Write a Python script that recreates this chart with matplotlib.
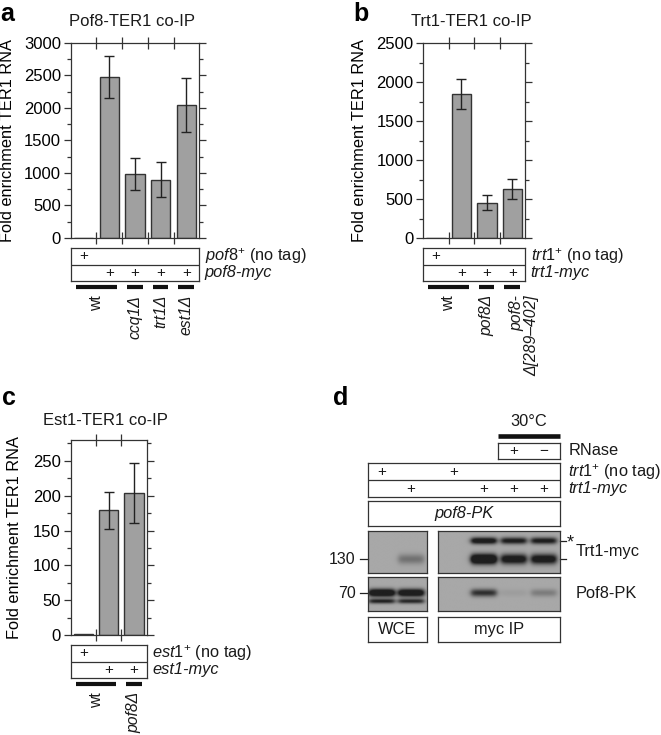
import numpy as np
import matplotlib
matplotlib.use('Agg')
import matplotlib.pyplot as plt
from matplotlib.ticker import MultipleLocator

plt.rcParams['font.family'] = ['Liberation Sans', 'DejaVu Sans']
plt.rcParams['mathtext.fontset'] = 'custom'
plt.rcParams['mathtext.rm'] = 'Liberation Sans'
plt.rcParams['mathtext.it'] = 'Liberation Sans:italic'
plt.rcParams['axes.edgecolor'] = '#333333'
plt.rcParams['axes.linewidth'] = 0.9
plt.rcParams['text.color'] = '#1a1a1a'

W, H = 661, 735

# ---------------- data ----------------
# a: Pof8-TER1 co-IP
a_vals = [0, 2480, 980, 890, 2050]
a_lo = [0, 2160, 740, 630, 1630]
a_hi = [0, 2800, 1230, 1170, 2460]
a_notag = ['+', '', '', '', '']
a_myc = ['', '+', '+', '+', '+']
a_rows = [r'$\mathit{pof8}^{+}$ (no tag)', 'pof8-myc']
a_groups = [(0, 1, 'wt'), (2, 2, 'ccq1Δ'), (3, 3, 'trt1Δ'), (4, 4, 'est1Δ')]

# b: Trt1-TER1 co-IP
b_vals = [0, 1850, 455, 630]
b_lo = [0, 1660, 365, 500]
b_hi = [0, 2040, 550, 760]
b_notag = ['+', '', '', '']
b_myc = ['', '+', '+', '+']
b_rows = [r'$\mathit{trt1}^{+}$ (no tag)', 'trt1-myc']
b_groups = [(0, 1, 'wt'), (2, 2, 'pof8Δ'), (3, 3, 'pof8-\nΔ[289–402]')]

# c: Est1-TER1 co-IP
c_vals = [2, 179, 204]
c_lo = [2, 152, 161]
c_hi = [2, 206, 247]
c_notag = ['+', '', '']
c_myc = ['', '+', '+']
c_rows = [r'$\mathit{est1}^{+}$ (no tag)', 'est1-myc']
c_groups = [(0, 1, 'wt'), (2, 2, 'pof8Δ')]

# d: western blot, 6 lanes (2 WCE + 4 myc IP)
d_notag = ['+', '', '+', '', '', '']
d_myc = ['', '+', '', '+', '+', '+']
d_rnase = ['', '', '', '', '+', '−']
trt1_star = [0, 0, 0, 1.3, 1.1, 1.1]
trt1_main = [0, 0.4, 0, 1.8, 1.3, 1.3]
pof8_band = [1.6, 1.5, 0, 0.9, 0.08, 0.32]
pof8_low = [1.0, 0.95, 0, 0, 0, 0]

fig = plt.figure(figsize=(6.61, 7.35), dpi=100)


def px_rect(x0, y0, x1, y1):
    return [x0 / W, 1 - y1 / H, (x1 - x0) / W, (y1 - y0) / H]


def bar_panel(rect, title, vals, lo, hi, ymax, major, minor, ylab_right, tgap):
    ax = fig.add_axes(px_rect(*rect))
    vals, lo, hi = (np.array(v, float) for v in (vals, lo, hi))
    n = len(vals)
    x = np.arange(n)
    ax.bar(x, vals, width=0.76, color='#a0a0a0', edgecolor='#333333',
           linewidth=1.0, zorder=2)
    m = hi > lo
    ax.errorbar(x[m], vals[m], yerr=[vals[m] - lo[m], hi[m] - vals[m]], fmt='none',
                ecolor='#222222', elinewidth=1.0, capsize=3.5, capthick=1.0, zorder=3)
    ax.set_xlim(-0.5, n - 0.5)
    ax.set_ylim(0, ymax)
    ax.set_xticks(np.arange(n - 1) + 0.5)
    ax.set_xticklabels([])
    ax.yaxis.set_major_locator(MultipleLocator(major))
    ax.yaxis.set_minor_locator(MultipleLocator(minor))
    ax.tick_params(axis='y', which='both', direction='out', left=True, right=True,
                   labelsize=12, color='#333333', width=0.9, pad=2)
    ax.tick_params(axis='y', which='major', length=5)
    ax.tick_params(axis='y', which='minor', length=3)
    ax.tick_params(axis='x', direction='inout', length=8, top=True, bottom=True,
                   color='#333333', width=0.9)
    ax.set_ylabel('Fold enrichment TER1 RNA', fontsize=11.8)
    ax.yaxis.set_label_coords((ylab_right - rect[0]) / (rect[2] - rect[0]), 0.5)
    ax.annotate(title, xy=(0.5, 1), xycoords='axes fraction', xytext=(-2, tgap),
                textcoords='offset points', ha='center', va='baseline', fontsize=12)
    return ax


def table_panel(rect, notag, myc, rows, groups):
    ax = fig.add_axes(px_rect(*rect))
    n = len(notag)
    ax.set_xlim(-0.5, n - 0.5)
    ax.set_ylim(0, 2)
    ax.set_xticks([])
    ax.set_yticks([])
    ax.axhline(1, color='#333333', lw=0.9)
    for i in range(n):
        ax.text(i, 1.5, notag[i], ha='center', va='center', fontsize=11)
        ax.text(i, 0.5, myc[i], ha='center', va='center', fontsize=11)
    ax.annotate(rows[0], xy=(1, 1.5), xycoords=('axes fraction', 'data'), xytext=(4, 0),
                textcoords='offset points', va='center', fontsize=11.8)
    ax.annotate(rows[1], xy=(1, 0.5), xycoords=('axes fraction', 'data'), xytext=(4, 0),
                textcoords='offset points', va='center', fontsize=11.8, style='italic')
    for i0, i1, name in groups:
        ax.plot([i0 - 0.31, i1 + 0.3], [-0.36, -0.36], color='#111111', lw=3,
                solid_capstyle='butt', clip_on=False)
        if '\n' in name:
            ax.annotate(name, xy=((i0 + i1) / 2, 0), xytext=(-2, -10),
                        textcoords='offset points', rotation=90, ha='left', va='top',
                        multialignment='right', fontsize=11.3, style='italic',
                        linespacing=1.0)
        else:
            ax.annotate(name, xy=((i0 + i1) / 2, 0), xytext=(0, -10),
                        textcoords='offset points', rotation=90, ha='center', va='top',
                        fontsize=11.3, style='normal' if name == 'wt' else 'italic')
    return ax


# panel a
bar_panel((70.7, 43, 199.3, 238), 'Pof8-TER1 co-IP', a_vals, a_lo, a_hi,
          3000, 500, 250, 15, 12)
table_panel((70.7, 248, 199.3, 281), a_notag, a_myc, a_rows, a_groups)

# panel b
bar_panel((423.3, 43.3, 525, 238.3), 'Trt1-TER1 co-IP', b_vals, b_lo, b_hi,
          2500, 500, 250, 367, 12.5)
table_panel((423.3, 248, 525, 281), b_notag, b_myc, b_rows, b_groups)

# panel c
bar_panel((70.7, 440, 146.7, 635), 'Est1-TER1 co-IP', c_vals, c_lo, c_hi,
          280, 50, 25, 22, 11)
table_panel((70.7, 645, 146.7, 678), c_notag, c_myc, c_rows, c_groups)

# panel letters
for lab, x, y in [('a', 0, 2), ('b', 353, 2), ('c', 2, 386), ('d', 333, 386)]:
    fig.text(x / W, 1 - y / H, lab, fontsize=18, fontweight='bold', ha='left', va='top',
             color='black')

# ---------------- panel d ----------------
LANE0, LANE_W = 382, 30
lane_u = np.array([0, 0.97, 2.4, 3.4, 4.4, 5.4])


def lane_ax(x0, y0, x1, y1):
    ax = fig.add_axes(px_rect(x0, y0, x1, y1))
    ax.set_xlim((x0 - LANE0) / LANE_W, (x1 - LANE0) / LANE_W)
    ax.set_ylim(0, 1)
    ax.set_xticks([])
    ax.set_yticks([])
    return ax


def gel(ax, bands):
    x0, x1 = ax.get_xlim()
    X, Y = np.meshgrid(np.linspace(x0, x1, 300), np.linspace(0, 1, 150))
    dark = np.zeros_like(X)
    for yb, sig, inten in bands:
        for u, a in zip(lane_u, inten):
            if a <= 0:
                continue
            prof = 1 / (1 + np.exp((np.abs(X - u) - 0.42) / 0.05))
            dark += a * prof * np.exp(-((Y - yb) / sig) ** 2)
    img = 0.66 - 0.54 * np.clip(dark, 0, 1)
    ax.imshow(img, cmap='gray', vmin=0, vmax=1, extent=(x0, x1, 0, 1), origin='lower',
              aspect='auto', interpolation='bilinear')


# RNase box and 30 C bar
ax_rn = lane_ax(497.7, 442.7, 560, 459)
for u, s in zip(lane_u, d_rnase):
    if s:
        ax_rn.text(u, 0.5, s, ha='center', va='center', fontsize=11)
ax_rn.plot([0, 1], [1.4, 1.4], transform=ax_rn.transAxes, color='#111111', lw=3.3,
           solid_capstyle='butt', clip_on=False)
ax_rn.text(0.5, 2.3, '30°C', transform=ax_rn.transAxes, ha='center', va='center',
           fontsize=11.8)
ax_rn.annotate('RNase', xy=(1, 0.5), xycoords='axes fraction', xytext=(6, 0),
               textcoords='offset points', va='center', fontsize=11.8)

# genotype table
ax_t = lane_ax(368.3, 463.3, 560, 497.3)
ax_t.set_ylim(0, 2)
ax_t.axhline(1, color='#333333', lw=0.9)
for u, s1, s2 in zip(lane_u, d_notag, d_myc):
    ax_t.text(u, 1.5, s1, ha='center', va='center', fontsize=11)
    ax_t.text(u, 0.5, s2, ha='center', va='center', fontsize=11)
ax_t.annotate(r'$\mathit{trt1}^{+}$ (no tag)', xy=(1, 1.5), xycoords=('axes fraction', 'data'),
              xytext=(6, 0), textcoords='offset points', va='center', fontsize=11.8)
ax_t.annotate('trt1-myc', xy=(1, 0.5), xycoords=('axes fraction', 'data'),
              xytext=(6, 0), textcoords='offset points', va='center', fontsize=11.8,
              style='italic')

ax_pk = lane_ax(368.3, 501, 560, 526)
ax_pk.text(0.5, 0.5, 'pof8-PK', transform=ax_pk.transAxes, ha='center', va='center',
           fontsize=11.8, style='italic')

# gels
trt1_bands = [(0.77, 0.08, trt1_star), (0.33, 0.12, trt1_main)]
pof8_bands = [(0.52, 0.11, pof8_band), (0.28, 0.07, pof8_low)]
g_wce1 = lane_ax(368.3, 531, 426.7, 572.7)
g_ip1 = lane_ax(438.3, 531, 560, 572.7)
g_wce2 = lane_ax(368.3, 576.7, 426.7, 611)
g_ip2 = lane_ax(438.3, 576.7, 560, 611)
for g in (g_wce1, g_ip1):
    gel(g, trt1_bands)
for g in (g_wce2, g_ip2):
    gel(g, pof8_bands)

# size markers
for g, y, lab in [(g_wce1, 0.32, '130'), (g_wce2, 0.52, '70')]:
    g.plot([-0.14, 0], [y, y], color='#222222', lw=0.9, transform=g.transAxes,
           clip_on=False)
    g.text(-0.22, y, lab, transform=g.transAxes, ha='right', va='center', fontsize=11.5)
for y in (0.77, 0.33):
    g_ip1.plot([1, 1.05], [y, y], color='#222222', lw=0.9, transform=g_ip1.transAxes,
               clip_on=False)
g_ip1.text(1.055, 0.72, '*', transform=g_ip1.transAxes, ha='left', va='center',
           fontsize=13)
g_ip1.text(1.13, 0.5, 'Trt1-myc', transform=g_ip1.transAxes, ha='left', va='center',
           fontsize=11.8)
g_ip2.text(1.13, 0.52, 'Pof8-PK', transform=g_ip2.transAxes, ha='left', va='center',
           fontsize=11.8)

# WCE / myc IP boxes
for box, lab in [((368.3, 617.3, 426.7, 642.3), 'WCE'), ((438.3, 617.3, 560, 642.3), 'myc IP')]:
    b = lane_ax(*box)
    b.text(0.5, 0.5, lab, transform=b.transAxes, ha='center', va='center', fontsize=11.8)

fig.savefig('out.png', dpi=100)
